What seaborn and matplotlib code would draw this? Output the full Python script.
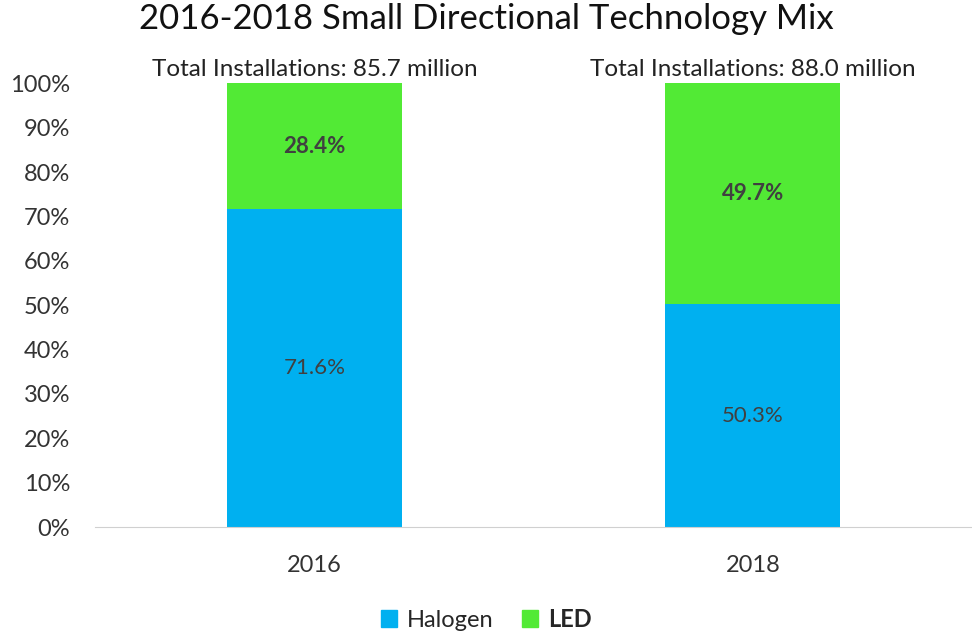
import numpy as np
import pandas as pd
import matplotlib
matplotlib.use("Agg")
import matplotlib.pyplot as plt
import seaborn as sns
from matplotlib.patches import Patch

years = ["2016", "2018"]
halogen = [71.6, 50.3]
led = [28.4, 49.7]
totals = [85.7, 88.0]

sns.set_style("white")
plt.rcParams['font.family'] = ['Lato', 'DejaVu Sans']

blue = "#00B0F0"
green = "#52EA35"
txt = "#404040"

fig, ax = plt.subplots(figsize=(9.72, 6.32), dpi=100)
fig.subplots_adjust(left=0.098, right=1.0, top=0.868, bottom=0.166)

df = pd.DataFrame({"year": years, "Halogen": halogen, "LED": led})
sns.barplot(data=df, x="year", y="Halogen", color=blue, width=0.4, ax=ax,
            saturation=1, linewidth=0)
sns.barplot(data=df, x="year", y="LED", color=green, width=0.4, ax=ax,
            saturation=1, linewidth=0, bottom=df["Halogen"])

for i in range(len(years)):
    ax.text(i, halogen[i] / 2, f"{halogen[i]:.1f}%", ha="center", va="center",
            fontsize=16, color=txt)
    ax.text(i, halogen[i] + led[i] / 2, f"{led[i]:.1f}%", ha="center", va="center",
            fontsize=16, color=txt, fontweight="bold")
    ax.text(i, 100.8, f"Total Installations: {totals[i]:.1f} million", ha="center",
            va="bottom", fontsize=17.5, color="#222222")

ax.set_xlim(-0.5, 1.5)
ax.set_ylim(0, 100)
ax.set_yticks(np.arange(0, 101, 10))
ax.set_yticklabels([f"{v}%" for v in range(0, 101, 10)])
ax.tick_params(axis="both", labelsize=17, colors="#333333", length=0)
ax.tick_params(axis="x", pad=20)
ax.tick_params(axis="y", pad=18)
ax.set_xlabel("")
ax.set_ylabel("")
for s in ["top", "right", "left"]:
    ax.spines[s].set_visible(False)
ax.spines["bottom"].set_color("#d0d0d0")

fig.suptitle("2016-2018 Small Directional Technology Mix", fontsize=25, y=0.995,
             color="#111111")

handles = [Patch(color=blue), Patch(color=green)]
leg = fig.legend(handles, ["Halogen", "LED"], loc="lower center", ncol=2,
                 bbox_to_anchor=(0.5, -0.032), frameon=False, fontsize=17,
                 handlelength=0.7, handleheight=0.7, handletextpad=0.4,
                 columnspacing=1.2)
leg.get_texts()[1].set_fontweight("bold")

fig.savefig("out.png", dpi=100)
